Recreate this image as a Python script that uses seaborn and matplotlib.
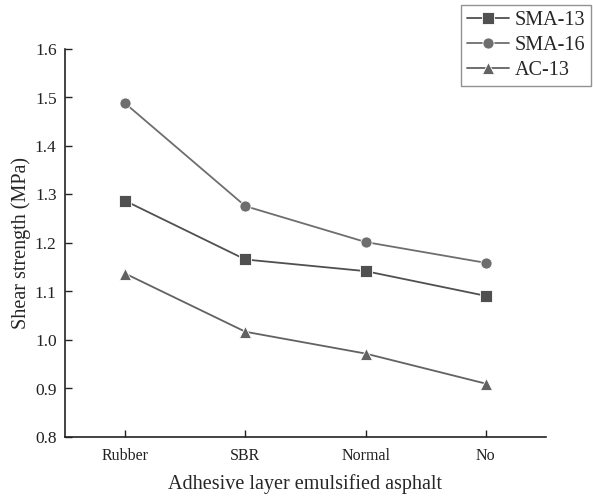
import matplotlib
matplotlib.use("Agg")
import matplotlib.pyplot as plt
import seaborn as sns
import pandas as pd

categories = ["Rubber", "SBR", "Normal", "No"]
sma13 = [1.287, 1.166, 1.142, 1.091]
sma16 = [1.488, 1.276, 1.202, 1.159]
ac13 = [1.137, 1.017, 0.972, 0.910]
series_names = ["SMA-13", "SMA-16", "AC-13"]

rows = []
for name, vals in zip(series_names, [sma13, sma16, ac13]):
    for i, (c, v) in enumerate(zip(categories, vals)):
        rows.append({"pos": i, "cat": c, "value": v, "series": name})
df = pd.DataFrame(rows)

sns.set_theme(style="ticks")
plt.rcParams["font.family"] = ["Liberation Serif", "DejaVu Serif"]

fig = plt.figure(figsize=(5.93, 4.98), dpi=100)
ax = fig.add_axes([65/593, 1-437/498, (546-65)/593, (437-49)/498])

palette = {"SMA-13": "#505050", "SMA-16": "#6e6e6e", "AC-13": "#626262"}
markers = {"SMA-13": "s", "SMA-16": "o", "AC-13": "^"}
sns.lineplot(data=df, x="pos", y="value", hue="series", style="series",
             hue_order=series_names, style_order=series_names,
             palette=palette, markers=markers, dashes=False,
             markersize=8, markeredgecolor="white", markeredgewidth=0.6,
             linewidth=1.3, ax=ax)

ax.set_xlim(-0.5, 3.5)
ax.set_ylim(0.8, 1.6)
yt = [0.8, 0.9, 1.0, 1.1, 1.2, 1.3, 1.4, 1.5, 1.6]
ax.set_xticks(range(len(categories)))
ax.set_xticklabels(categories, fontsize=11.5)
ax.set_yticks(yt)
ax.set_yticklabels([f"{v:.1f}" for v in yt], fontsize=12.5)
ax.tick_params(direction="in", length=5, width=1, colors="#222222", pad=6)
ax.tick_params(axis="x", pad=8)
ax.set_xlabel("Adhesive layer emulsified asphalt", fontsize=14.5, labelpad=7)
ax.set_ylabel("Shear strength (MPa)", fontsize=14.5, labelpad=3)
for s in ["top", "right"]:
    ax.spines[s].set_visible(False)
for s in ["left", "bottom"]:
    ax.spines[s].set_linewidth(1.2)
    ax.spines[s].set_color("#222222")

handles, labels = ax.get_legend_handles_labels()
leg = ax.legend(handles, labels, loc="upper left", bbox_to_anchor=(461/593, 1-5/498),
                bbox_transform=fig.transFigure, fancybox=False, frameon=True,
                fontsize=14.5, handlelength=2.1, handletextpad=0.25, borderpad=0.3,
                labelspacing=0.3, borderaxespad=0)
leg.get_frame().set_edgecolor("#777777")
leg.get_frame().set_linewidth(1.0)

fig.savefig("out.png", dpi=100)
